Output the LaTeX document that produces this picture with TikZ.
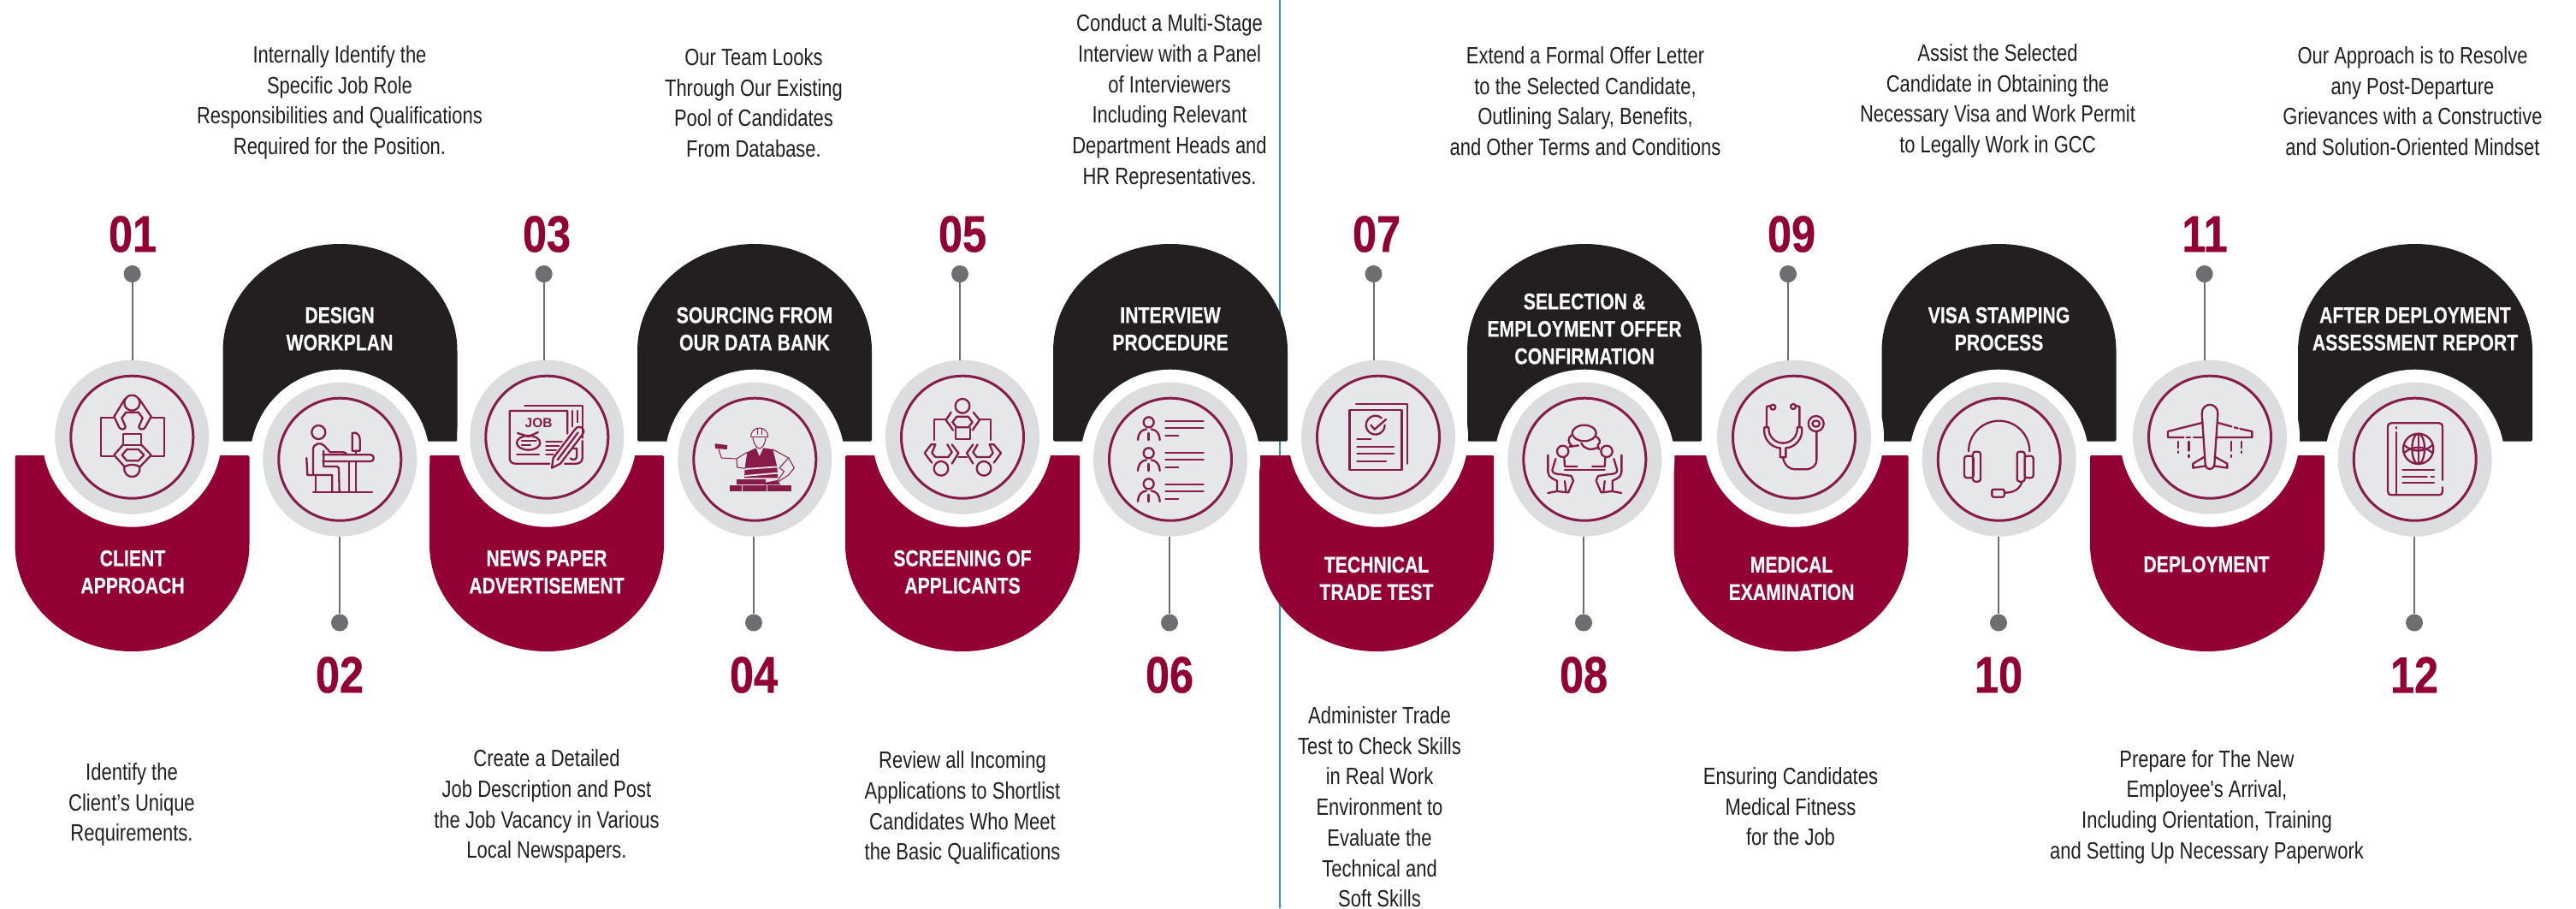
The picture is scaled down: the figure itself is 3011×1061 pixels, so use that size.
\documentclass[tikz,border=0pt]{standalone}
\usepackage{fontspec}
\setmainfont{Liberation Sans}
\newfontfamily\labfam[FakeStretch=0.8,FakeBold=0.25]{Liberation Sans}
\newfontfamily\numfam[FakeStretch=0.84,FakeBold=0.6]{Liberation Sans}
\newfontfamily\descfam[FakeStretch=0.8]{Liberation Sans}
\definecolor{wine}{HTML}{930033}
\definecolor{ink}{HTML}{231F20}
\definecolor{halo}{HTML}{DCDDDE}
\definecolor{disc}{HTML}{E6E7E8}
\definecolor{iconc}{HTML}{861C4A}
\definecolor{stem}{HTML}{6D6E71}
\definecolor{rule}{HTML}{2F93D3}
\tikzset{
  halobox/.style={circle,fill=halo,minimum size=180pt,inner sep=0pt},
  gapbox/.style={circle,fill=white,minimum size=210pt,inner sep=0pt},
  discbox/.style={circle,fill=disc,draw=iconc,line width=3pt,minimum size=143pt,inner sep=0pt},
  dotbox/.style={circle,fill=stem,minimum size=20pt,inner sep=0pt},
  stemline/.style={draw=stem,line width=2pt},
  numtext/.style={text=wine,inner sep=0pt,font=\numfam\bfseries\fontsize{60}{60}\selectfont},
  labtext/.style={text=white,inner sep=0pt,align=center,font=\labfam\bfseries\fontsize{26.5}{32}\selectfont},
  desctext/.style={text=ink,inner sep=0pt,align=center,yshift=-3pt,font=\descfam\fontsize{27.5}{35.7}\selectfont},
  ic/.style={draw=iconc,line width=2.3pt,line cap=round,line join=round},
  icthin/.style={draw=iconc,line width=1pt,line cap=round,line join=round},
  icfill/.style={fill=iconc},
}
\newcommand{\wlobe}[1]{\fill[wine,draw=wine,line width=3pt,line join=round] (#1-135.5,533.5) -- (#1+135.5,533.5) -- (#1+135.5,636) .. controls (#1+135.5,704) and (#1+75,759.5) .. (#1,759.5) .. controls (#1-75,759.5) and (#1-135.5,704) .. (#1-135.5,636) -- cycle;}
\newcommand{\blobe}[1]{\fill[ink,draw=ink,line width=3pt,line join=round] (#1-135.5,514) -- (#1+135.5,514) -- (#1+135.5,410) .. controls (#1+135.5,342) and (#1+75,286.5) .. (#1,286.5) .. controls (#1-75,286.5) and (#1-135.5,342) .. (#1-135.5,410) -- cycle;}
\begin{document}
\begin{tikzpicture}[x=1pt,y=-1pt]
\useasboundingbox[fill=white] (0,0) rectangle (3011,1061);
\coordinate (ruletop) at (1496,0);
\coordinate (rulebot) at (1496,1061);
\draw[rule,line width=2pt] (ruletop) -- (rulebot);
% lobes
\foreach \x in {154.5,639,1125,1609,2093.5,2580}{\wlobe{\x}}
\foreach \x in {397.5,882,1368,1852,2336.5,2823}{\blobe{\x}}
% rings and gaps
\foreach \i/\x/\y in {1/154.3/510.7,2/397.3/536.7,3/639.3/510.7,4/882.3/536.7,5/1125/510.7,6/1368/536.7,7/1611/510.7,8/1852.3/536.7,9/2097/510.7,10/2336.7/536.7,11/2583/510.7,12/2822.7/536.7}{
  \node[gapbox] (gap\i) at (\x,\y) {};
}
\foreach \i/\x/\y in {1/154.3/510.7,2/397.3/536.7,3/639.3/510.7,4/882.3/536.7,5/1125/510.7,6/1368/536.7,7/1611/510.7,8/1852.3/536.7,9/2097/510.7,10/2336.7/536.7,11/2583/510.7,12/2822.7/536.7}{
  \node[halobox] (halo\i) at (\x,\y) {};
  \node[discbox] (disc\i) at (\x,\y) {};
}
% dots, stems
\foreach \i/\x in {1/154.6,3/635.7,5/1122,7/1605.5,9/2090,11/2576.7}{
  \node[dotbox] (dot\i) at (\x,320) {};
  \draw[stemline] (dot\i) -- (dot\i |- halo\i.north);
}
\foreach \i/\x in {2/397,4/881,6/1367,8/1851,10/2336,12/2822}{
  \node[dotbox] (dot\i) at (\x,727.5) {};
  \draw[stemline] (dot\i) -- (dot\i |- halo\i.south);
}
% numbers
\foreach \i/\t/\x in {1/01/155,3/03/639,5/05/1125,7/07/1609,9/09/2094,11/11/2577}{
  \node[numtext] (num\i) at (\x,273.5) {\t};
}
\foreach \i/\t/\x in {2/02/397,4/04/881,6/06/1367,8/08/1851,10/10/2336,12/12/2822}{
  \node[numtext] (num\i) at (\x,788.5) {\t};
}
% labels
\node[labtext] (lab1) at (155,671) {\strut CLIENT\\APPROACH\strut};
\node[labtext] (lab3) at (639,671) {\strut NEWS PAPER\\ADVERTISEMENT\strut};
\node[labtext] (lab5) at (1125,671) {\strut SCREENING OF\\APPLICANTS\strut};
\node[labtext] (lab7) at (1609,678.5) {\strut TECHNICAL\\TRADE TEST\strut};
\node[labtext] (lab9) at (2094,678.5) {\strut MEDICAL\\EXAMINATION\strut};
\node[labtext] (lab11) at (2579,662) {\strut DEPLOYMENT\strut};
\node[labtext] (lab2) at (397,387) {\strut DESIGN\\WORKPLAN\strut};
\node[labtext] (lab4) at (882,387) {\strut SOURCING FROM\\OUR DATA BANK\strut};
\node[labtext] (lab6) at (1368,387) {\strut INTERVIEW\\PROCEDURE\strut};
\node[labtext] (lab8) at (1852,387) {\strut SELECTION \&\\EMPLOYMENT OFFER\\CONFIRMATION\strut};
\node[labtext] (lab10) at (2336.5,387) {\strut VISA STAMPING\\PROCESS\strut};
\node[labtext] (lab12) at (2823,387) {\strut AFTER DEPLOYMENT\\ASSESSMENT REPORT\strut};
% descriptions
\node[desctext] (desc2) at (397,117) {\strut Internally Identify the\\Specific Job Role\\Responsibilities and Qualifications\\Required for the Position.\strut};
\node[desctext] (desc4) at (881,120) {\strut Our Team Looks\\Through Our Existing\\Pool of Candidates\\From Database.\strut};
\node[desctext] (desc6) at (1367,116) {\strut Conduct a Multi-Stage\\Interview with a Panel\\of Interviewers\\Including Relevant\\Department Heads and\\HR Representatives.\strut};
\node[desctext] (desc8) at (1853,118) {\strut Extend a Formal Offer Letter\\to the Selected Candidate,\\Outlining Salary, Benefits,\\and Other Terms and Conditions\strut};
\node[desctext] (desc10) at (2335,115) {\strut Assist the Selected\\Candidate in Obtaining the\\Necessary Visa and Work Permit\\to Legally Work in GCC\strut};
\node[desctext] (desc12) at (2820,118) {\strut Our Approach is to Resolve\\any Post-Departure\\Grievances with a Constructive\\and Solution-Oriented Mindset\strut};
\node[desctext] (desc1) at (154,937) {\strut Identify the\\Client’s Unique\\Requirements.\strut};
\node[desctext] (desc3) at (639,939) {\strut Create a Detailed\\Job Description and Post\\the Job Vacancy in Various\\Local Newspapers.\strut};
\node[desctext] (desc5) at (1125,941) {\strut Review all Incoming\\Applications to Shortlist\\Candidates Who Meet\\the Basic Qualifications\strut};
\node[desctext] (desc7) at (1612.5,942.5) {\strut Administer Trade\\Test to Check Skills\\in Real Work\\Environment to\\Evaluate the\\Technical and\\Soft Skills\strut};
\node[desctext] (desc9) at (2093,942) {\strut Ensuring Candidates\\Medical Fitness\\for the Job\strut};
\node[desctext] (desc11) at (2579.5,939.5) {\strut Prepare for The New\\Employee's Arrival,\\Including Orientation, Training\\and Setting Up Necessary Paperwork\strut};
% ---------- icons, in crop coordinates at 3 units per pixel
\begin{scope}[shift={(70,430)},x=.33333pt,y=-.33333pt]
  % icon 1
  \draw[ic] (253,122) circle [radius=27];
  \draw[ic] (187,173) -- (143,173) -- (143,310) -- (187,310);
  \draw[ic] (320,173) -- (365,173) -- (365,310) -- (320,310);
  \draw[ic] (228,108) -- (190,170) -- (208,208) .. controls (213,218) and (232,216) .. (230,205) -- (217,175) -- (232,155) -- (275,155) -- (290,175) -- (277,205) .. controls (275,216) and (294,218) .. (299,208) -- (320,170) -- (278,108);
  \draw[ic] (222,265) -- (222,232) -- (285,232) -- (285,265);
  \draw[ic] (222,270) -- (285,270);
  \draw[ic] (222,268) -- (190,305) -- (226,345);
  \draw[ic] (285,268) -- (320,305) -- (282,345);
  \draw[ic] (235,285) -- (275,285) -- (295,305) -- (275,325) -- (235,325) -- (218,305) -- cycle;
  \draw[ic] (226,348) .. controls (222,392) and (284,392) .. (280,348) .. controls (272,336) and (234,336) .. (226,348);
  % icon 2
  \draw[ic] (907,225) circle [radius=24];
  \draw[ic] (888,372) -- (888,285) .. controls (888,265) and (915,258) .. (927,272) -- (948,295) -- (992,295) .. controls (1002,295) and (1005,300) .. (1006,304);
  \draw[ic] (922,304) -- (1090,304) .. controls (1104,304) and (1104,327) .. (1090,327) -- (922,327);
  \draw[ic] (925,290) -- (925,345) -- (972,345) -- (978,350) -- (980,432);
  \draw[ic] (1015,327) -- (1015,432);
  \draw[ic] (1037,327) -- (1037,432);
  \draw[ic] (1025,290) -- (1025,228) .. controls (1040,222) and (1052,235) .. (1052,250) -- (1052,290) -- cycle;
  \draw[ic] (1037,290) -- (1037,303);
  \draw[ic] (865,315) -- (868,375) -- (955,375) -- (955,432);
  \draw[ic] (897,377) -- (897,432);
  \draw[ic] (888,434) -- (1095,434);
\end{scope}
\begin{scope}[shift={(555,430)},x=.33333pt,y=-.33333pt]
  % icon 3
  \draw[ic] (175,132) -- (377,132) -- (377,245);
  \draw[ic] (325,230) -- (325,150) -- (122,150) -- (122,315) .. controls (122,328) and (130,335) .. (142,335) -- (262,335);
  \draw[ic] (377,255) -- (377,315) .. controls (377,328) and (368,335) .. (355,335) -- (315,335);
  \draw[ic] (343,150) -- (343,205);
  \draw[ic] (360,150) -- (360,190);
  \node[text=iconc,inner sep=0pt,font=\bfseries\fontsize{15.5}{15.5}\selectfont] (jobtext) at (224,192) {JOB};
  \draw[ic] (188,262) ellipse [x radius=41,y radius=25];
  \draw[ic] (150,228) -- (188,240) -- (222,225);
  \draw[ic] (165,255) -- (215,255);
  \draw[ic] (165,270) -- (195,270);
  \draw[ic] (250,257) -- (305,257);
  \draw[ic] (250,272) -- (295,272);
  \draw[ic] (250,288) -- (285,288);
  \draw[ic] (250,303) -- (275,303);
  \draw[ic] (148,303) -- (225,303);
  \draw[ic] (270,350) -- (275,315) -- (352,214) .. controls (365,196) and (392,212) .. (378,232) -- (300,335) -- cycle;
  \draw[ic] (290,322) -- (362,226);
  \draw[ic] (345,282) -- (358,282) -- (358,308) .. controls (358,322) and (342,325) .. (335,316);
  % icon 4
  \draw[icthin] (968,240) arc [start angle=180,end angle=360,radius=30];
  \draw[icthin] (968,240) -- (1028,240);
  \draw[icthin] (990,211) -- (990,232);
  \draw[icthin] (1006,211) -- (1006,232);
  \draw[icthin] (975,245) .. controls (978,268) and (990,282) .. (998,282) .. controls (1006,282) and (1018,268) .. (1020,245);
  \fill[icfill] (955,295) -- (986,280) -- (998,310) -- (1012,280) -- (1045,285) -- (1060,345) -- (1063,385) -- (945,385) -- (947,350) -- cycle;
  \draw[disc,line width=1.8pt] (946,354) -- (1062,346);
  \draw[disc,line width=1.8pt] (946,378) -- (1063,368);
  \draw[icthin] (955,295) -- (918,318) -- (865,315) -- (855,285);
  \draw[icthin] (918,318) -- (920,348) -- (947,352);
  \fill[icfill] (842,265) -- (886,270) -- (884,285) -- (843,282) -- cycle;
  \draw[icthin] (1045,285) -- (1100,315) -- (1120,350) -- (1100,375) -- (1065,398);
  \draw[icthin] (1100,315) -- (1068,350) -- (1085,362) -- (1062,395);
  \fill[icfill] (895,411) rectangle (936,432);
  \fill[icfill] (939,411) rectangle (1024,432);
  \fill[icfill] (1027,411) rectangle (1110,432);
  \fill[icfill] (918,390) rectangle (1020,409);
  \fill[icfill] (1015,402) -- (1060,393) -- (1072,409) -- (1015,409) -- cycle;
\end{scope}
\begin{scope}[shift={(1040,430)},x=.33333pt,y=-.33333pt]
  % icon 5
  \draw[ic] (255,133) circle [radius=25];
  \draw[ic] (235,170) -- (275,170) -- (290,190) -- (275,208) -- (235,208) -- (220,190) -- cycle;
  \draw[ic] (215,155) -- (197,182) -- (222,218);
  \draw[ic] (293,155) -- (315,182) -- (290,218);
  \draw[ic] (230,210) -- (230,248) -- (283,248) -- (283,210);
  \draw[ic] (197,180) -- (155,180) -- (155,252);
  \draw[ic] (315,180) -- (355,180) -- (355,252);
  \draw[ic] (180,352) circle [radius=25];
  \draw[ic] (330,352) circle [radius=25];
  \draw[ic] (160,268) -- (145,268) -- (122,298) -- (148,332);
  \draw[ic] (160,268) -- (148,298) -- (160,312) -- (205,312) -- (218,295) -- (202,268);
  \draw[ic] (218,335) -- (241,298) -- (218,268);
  \draw[ic] (350,268) -- (365,268) -- (390,298) -- (365,332);
  \draw[ic] (350,268) -- (362,298) -- (350,312) -- (305,312) -- (292,295) -- (308,268);
  \draw[ic] (292,335) -- (270,298) -- (292,268);
  \draw[ic] (241,312) -- (270,312);
  % icon 6
  \foreach \d in {0,108,216}{
    \draw[ic] (908,190+\d) circle [radius=18];
    \draw[ic] (870,252+\d) .. controls (872,228+\d) and (880,218+\d) .. (900,214+\d);
    \draw[ic] (947,252+\d) .. controls (945,228+\d) and (937,218+\d) .. (917,214+\d);
    \draw[ic,line width=2.6pt] (908,228+\d) -- (908,252+\d);
  }
  \foreach \d in {0,111,222}{
    \draw[ic] (967,185+\d) -- (1100,185+\d);
    \draw[ic] (967,210+\d) -- (1100,210+\d);
    \draw[ic] (967,236+\d) -- (1012,236+\d);
  }
\end{scope}
\begin{scope}[shift={(1525,430)},x=.33333pt,y=-.33333pt]
  % icon 7
  \draw[ic] (157,146) rectangle (340,356);
  \draw[ic] (180,127) -- (360,127) -- (360,335);
  \draw[ic] (269.2,174.7) arc [start angle=-50,end angle=-360,radius=33];
  \draw[ic] (232,200) -- (245,215) -- (285,180);
  \draw[ic] (184,250) -- (232,250);
  \draw[ic] (184,277) -- (312,277);
  \draw[ic] (184,301) -- (312,301);
  \draw[ic] (184,328) -- (285,328);
  % icon 8
  \draw[ic] (980,228) ellipse [x radius=42,y radius=28];
  \draw[ic] (935,235) .. controls (920,248) and (925,262) .. (935,270) -- (928,276) -- (960,271);
  \draw[ic] (970,263) .. controls (980,285) and (1005,290) .. (1028,278) -- (1032,285) -- (1028,270) .. controls (1040,260) and (1035,248) .. (1022,240);
  \draw[ic] (912,356) -- (1052,356);
  \foreach \f/\s in {0/1,1964/-1}{
  \begin{scope}[shift={(\f,0)},xscale=\s]
    \draw[ic] (905,292) circle [radius=20];
    \draw[ic] (910,312) -- (912,345) -- (955,345);
    \draw[ic] (880,318) -- (868,358) .. controls (868,368) and (880,372) .. (895,372) -- (935,378) -- (942,395) -- (925,435);
    \draw[ic] (853,305) -- (853,365) .. controls (853,385) and (880,392) .. (885,395) -- (885,432);
    \draw[ic] (853,438) -- (885,432) -- (925,436);
    \draw[ic] (912,396) -- (916,432);
  \end{scope}}
\end{scope}
\begin{scope}[shift={(2010,430)},x=.33333pt,y=-.33333pt]
  % icon 9
  \draw[ic] (187,137) circle [radius=9];
  \draw[ic] (258,135) circle [radius=9];
  \draw[ic] (178,132) -- (165,135) -- (165,205);
  \draw[ic] (267,132) -- (280,135) -- (280,205);
  \draw[ic] (157,208) .. controls (150,250) and (185,280) .. (212,280) -- (212,313) -- (232,313) -- (232,280) .. controls (260,280) and (295,250) .. (288,208) -- (272,208) .. controls (275,240) and (250,263) .. (222,263) .. controls (195,263) and (170,240) .. (172,208) -- cycle;
  \draw[ic] (222,315) .. controls (228,342) and (245,355) .. (265,355) -- (300,355) .. controls (325,355) and (340,342) .. (340,320) -- (340,222);
  \draw[ic] (338,195) circle [radius=27];
  \draw[ic] (338,195) ellipse [x radius=13,y radius=11];
  % icon 10
  \draw[ic] (873,292) arc [start angle=180,end angle=360,radius=107];
  \draw[ic,rounded corners=3pt] (858,308) rectangle (890,385);
  \draw[ic,rounded corners=3pt] (888,293) rectangle (915,398);
  \draw[ic,rounded corners=3pt] (1043,293) rectangle (1070,398);
  \draw[ic,rounded corners=3pt] (1070,308) rectangle (1100,385);
  \draw[ic] (1060,400) .. controls (1052,425) and (1030,437) .. (1000,437);
  \draw[ic,rounded corners=2pt] (955,425) rectangle (998,452);
\end{scope}
\begin{scope}[shift={(2495,430)},x=.33333pt,y=-.33333pt]
  % icon 11
  \draw[ic] (236,160) .. controls (236,118) and (292,118) .. (292,160) -- (280,338) .. controls (276,360) and (252,360) .. (248,338) -- cycle;
  \draw[ic] (236,192) -- (117,222) -- (117,243) -- (172,243);
  \draw[ic] (182,243) -- (195,243);
  \draw[ic] (207,243) -- (240,243);
  \draw[ic] (293,192) -- (340,205);
  \draw[ic] (350,208) -- (362,211);
  \draw[ic] (370,213) -- (412,222) -- (412,243) -- (290,243);
  \draw[ic] (247,310) -- (205,335) -- (205,350) -- (250,343);
  \draw[ic] (280,310) -- (325,335) -- (325,350) -- (278,343);
  \draw[ic] (152,258) -- (152,280);
  \draw[ic] (152,292) -- (152,297);
  \draw[ic] (190,258) -- (190,290);
  \draw[ic] (190,305) -- (190,312);
  \draw[ic] (338,258) -- (338,290);
  \draw[ic] (338,305) -- (338,312);
  \draw[ic] (375,258) -- (375,280);
  \draw[ic] (375,292) -- (375,297);
  % icon 12
  \draw[ic] (1080,392) -- (1080,205) .. controls (1080,197) and (1075,193) .. (1068,193) -- (900,193) .. controls (893,193) and (888,197) .. (888,205) -- (888,432) .. controls (888,440) and (893,445) .. (900,445) -- (1068,445) .. controls (1075,445) and (1080,440) .. (1080,432) -- (1080,418);
  \draw[ic] (917,225) -- (917,445);
  \draw[ic] (917,207) -- (917,212);
  \draw[ic] (995,283) circle [radius=53];
  \draw[ic] (995,283) ellipse [x radius=22,y radius=53];
  \draw[ic] (995,230) -- (995,336);
  \draw[ic] (945,270) .. controls (975,296) and (1015,296) .. (1045,270);
  \draw[ic] (945,297) .. controls (975,272) and (1015,272) .. (1045,297);
  \draw[ic] (940,357) -- (1050,357);
  \draw[ic] (940,380) -- (1025,380);
  \draw[ic] (1040,380) -- (1050,380);
  \draw[ic] (940,403) -- (1050,403);
\end{scope}
\end{tikzpicture}
\end{document}
